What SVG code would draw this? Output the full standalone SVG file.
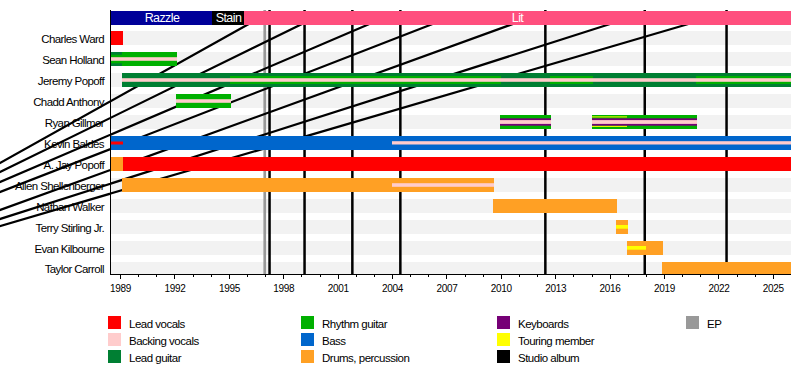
<svg xmlns="http://www.w3.org/2000/svg" xmlns:xlink="http://www.w3.org/1999/xlink" width="800" height="374" viewBox="0 0 800 374">
<defs>
<style>
text{font-family:"Liberation Sans",Arial,sans-serif;fill:#000}
.lbl{font-size:11.5px;letter-spacing:-0.6px;text-anchor:end}
.yr{font-size:10px;letter-spacing:-0.3px;text-anchor:middle}
.lg{font-size:11.5px;letter-spacing:-0.5px}
.hd{font-size:12.5px;letter-spacing:-0.6px;text-anchor:middle;fill:#fff}
.st{fill:#f2f2f2}
.lv{fill:#ff0000}.bv{fill:#ffcccc}.lgt{fill:#007f33}.rg{fill:#00b000}.bs{fill:#0066cc}.dr{fill:#ffa024}.kb{fill:#760076}.tm{fill:#ffff00}.ep{fill:#999999}.alb{fill:#000}
.diag{stroke:#000;stroke-width:2.2;fill:none}
.ax{stroke:#000;stroke-width:1;fill:none}
</style>
<clipPath id="plotclip"><rect x="111" y="0" width="689" height="275"/></clipPath>
<clipPath id="labclip"><rect x="0" y="0" width="110" height="300"/></clipPath>
<path id="diagp" d="M-5,165.8 L255.9,20 M-5,174.5 L310.2,20 M-5,184.1 L378.7,20 M-5,193.9 L442.9,20 M-5,211.8 L523.8,20 M-5,220.6 L622.6,20 M-5,227.5 L702,20"/>
</defs>
<rect width="800" height="374" fill="#fff"/>

<g id="stripes">
<rect class="st" x="111" y="31" width="680" height="14"/>
<rect class="st" x="111" y="52" width="680" height="14"/>
<rect class="st" x="111" y="73" width="680" height="14"/>
<rect class="st" x="111" y="94" width="680" height="14"/>
<rect class="st" x="111" y="115" width="680" height="14"/>
<rect class="st" x="111" y="136" width="680" height="14"/>
<rect class="st" x="111" y="157" width="680" height="14"/>
<rect class="st" x="111" y="178" width="680" height="14"/>
<rect class="st" x="111" y="199" width="680" height="14"/>
<rect class="st" x="111" y="220" width="680" height="14"/>
<rect class="st" x="111" y="241" width="680" height="14"/>
<rect class="st" x="111" y="262" width="680" height="12.5"/>
</g>

<g id="connectors">
<rect class="ep" x="263.4" y="10" width="2.7" height="265"/>
<rect class="alb" x="268.3" y="10" width="2.5" height="265"/>
<rect class="alb" x="303.3" y="10" width="2.5" height="265"/>
<rect class="alb" x="351.1" y="10" width="2.5" height="265"/>
<rect class="alb" x="399.1" y="10" width="2.5" height="265"/>
<rect class="alb" x="544.1" y="10" width="2.5" height="265"/>
<rect class="alb" x="643.5" y="10" width="2.5" height="265"/>
<rect class="alb" x="725.3" y="10" width="2.5" height="265"/>
<use xlink:href="#diagp" href="#diagp" class="diag" clip-path="url(#plotclip)"/>
</g>

<g id="bands">
<rect x="111" y="11" width="101" height="14" fill="#000099"/>
<text class="hd" x="162" y="22.3">Razzle</text>
<rect x="212" y="11" width="32" height="14" fill="#000"/>
<text class="hd" x="228.5" y="22.3">Stain</text>
<rect x="244" y="11" width="547" height="14" fill="#ff4f7e"/>
<text class="hd" x="517.5" y="22.3">Lit</text>
</g>

<g id="charles-ward">
<text class="lbl" x="104" y="42.5">Charles Ward</text>
<rect class="lv" x="111" y="31" width="12" height="14"/>
</g>
<g id="sean-holland">
<text class="lbl" x="104" y="63.5">Sean Holland</text>
<rect class="lgt" x="111" y="52" width="11" height="14"/>
<rect class="rg" x="122" y="52" width="55" height="14"/>
<rect class="rg" x="111" y="54.7" width="11" height="8.6"/>
<rect class="bv" x="111" y="57.2" width="66" height="3.6"/>
</g>
<g id="jeremy-popoff">
<text class="lbl" x="104" y="84.5">Jeremy Popoff</text>
<rect class="lgt" x="122" y="73" width="669" height="14"/>
<rect class="rg" x="230" y="76" width="271" height="8"/>
<rect class="rg" x="550" y="76" width="43" height="8"/>
<rect class="rg" x="696" y="76" width="95" height="8"/>
<rect class="bv" x="122" y="78.2" width="669" height="3.6"/>
</g>
<g id="chadd-anthony">
<text class="lbl" x="104" y="105.5">Chadd Anthony</text>
<rect class="rg" x="176" y="94" width="55" height="14"/>
<rect class="bv" x="176" y="99.2" width="55" height="3.6"/>
</g>
<g id="ryan-gillmor">
<text class="lbl" x="104" y="126.5">Ryan Gillmor</text>
<rect class="rg" x="500" y="115" width="51" height="14"/>
<rect class="rg" x="592" y="115" width="105" height="14"/>
<rect class="kb" x="500" y="118.3" width="51" height="7.4"/>
<rect class="kb" x="592" y="118.3" width="105" height="7.4"/>
<rect class="bv" x="500" y="120.1" width="51" height="3.8"/>
<rect class="bv" x="592" y="120.1" width="105" height="3.8"/>
<rect class="tm" x="592" y="116.4" width="35" height="1"/>
<rect class="tm" x="592" y="125.9" width="35" height="1"/>
</g>
<g id="kevin-baldes">
<text class="lbl" x="104" y="147.5">Kevin Baldes</text>
<rect class="bs" x="111" y="136" width="680" height="14"/>
<rect class="lv" x="111" y="141.5" width="12" height="3"/>
<rect class="bv" x="392" y="141.2" width="399" height="3.3"/>
</g>
<g id="a-jay-popoff">
<text class="lbl" x="104" y="168.5">A. Jay Popoff</text>
<rect class="dr" x="111" y="157" width="12" height="14"/>
<rect class="lv" x="123" y="157" width="668" height="14"/>
</g>
<g id="allen-shellenberger">
<text class="lbl" x="104" y="189.5">Allen Shellenberger</text>
<rect class="dr" x="122" y="178" width="372" height="14"/>
<rect class="bv" x="392" y="183.2" width="102" height="3.6"/>
</g>
<g id="nathan-walker">
<text class="lbl" x="104" y="210.5">Nathan Walker</text>
<rect class="dr" x="493" y="199" width="124" height="14"/>
</g>
<g id="terry-stirling-jr">
<text class="lbl" x="104" y="231.5">Terry Stirling Jr.</text>
<rect class="dr" x="616" y="220" width="12" height="14"/>
<rect class="tm" x="616" y="225" width="12" height="3.7"/>
</g>
<g id="evan-kilbourne">
<text class="lbl" x="104" y="252.5">Evan Kilbourne</text>
<rect class="dr" x="627" y="241" width="36" height="14"/>
<rect class="tm" x="627" y="246" width="19" height="3.7"/>
</g>
<g id="taylor-carroll">
<text class="lbl" x="104" y="273">Taylor Carroll</text>
<rect class="dr" x="662" y="262" width="129" height="12.5"/>
</g>

<use xlink:href="#diagp" href="#diagp" class="diag" clip-path="url(#labclip)"/>

<g id="axis">
<path class="ax" d="M110.5,10 V275 M110.5,274.5 H791"/>
<path class="ax" d="M120.5,275v4 M138.5,275v2 M156.5,275v2 M174.5,275v4 M193.5,275v2 M211.5,275v2 M229.5,275v4 M247.5,275v2 M265.5,275v2 M283.5,275v4 M301.5,275v2 M320.5,275v2 M338.5,275v4 M356.5,275v2 M374.5,275v2 M392.5,275v4 M410.5,275v2 M428.5,275v2 M446.5,275v4 M465.5,275v2 M483.5,275v2 M501.5,275v4 M519.5,275v2 M537.5,275v2 M555.5,275v4 M573.5,275v2 M592.5,275v2 M610.5,275v4 M628.5,275v2 M646.5,275v2 M664.5,275v4 M682.5,275v2 M700.5,275v2 M718.5,275v4 M737.5,275v2 M755.5,275v2 M773.5,275v4"/>
<text class="yr" x="120.6" y="292">1989</text>
<text class="yr" x="175" y="292">1992</text>
<text class="yr" x="229.4" y="292">1995</text>
<text class="yr" x="283.8" y="292">1998</text>
<text class="yr" x="338.2" y="292">2001</text>
<text class="yr" x="392.6" y="292">2004</text>
<text class="yr" x="446.9" y="292">2007</text>
<text class="yr" x="501.3" y="292">2010</text>
<text class="yr" x="555.7" y="292">2013</text>
<text class="yr" x="610.1" y="292">2016</text>
<text class="yr" x="664.5" y="292">2019</text>
<text class="yr" x="718.9" y="292">2022</text>
<text class="yr" x="773.3" y="292">2025</text>
</g>

<g id="legend">
<rect class="lv" x="108" y="316" width="13" height="13"/><text class="lg" x="129" y="327.5">Lead vocals</text>
<rect class="bv" x="108" y="333" width="13" height="13"/><text class="lg" x="129" y="344.5">Backing vocals</text>
<rect class="lgt" x="108" y="350" width="13" height="13"/><text class="lg" x="129" y="361.5">Lead guitar</text>
<rect class="rg" x="301" y="316" width="13" height="13"/><text class="lg" x="322" y="327.5">Rhythm guitar</text>
<rect class="bs" x="301" y="333" width="13" height="13"/><text class="lg" x="322" y="344.5">Bass</text>
<rect class="dr" x="301" y="350" width="13" height="13"/><text class="lg" x="322" y="361.5">Drums, percussion</text>
<rect class="kb" x="497" y="316" width="13" height="13"/><text class="lg" x="518" y="327.5">Keyboards</text>
<rect class="tm" x="497" y="333" width="13" height="13"/><text class="lg" x="518" y="344.5">Touring member</text>
<rect class="alb" x="497" y="350" width="13" height="13"/><text class="lg" x="518" y="361.5">Studio album</text>
<rect class="ep" x="686" y="316" width="13" height="13"/><text class="lg" x="707" y="327.5">EP</text>
</g>
</svg>
